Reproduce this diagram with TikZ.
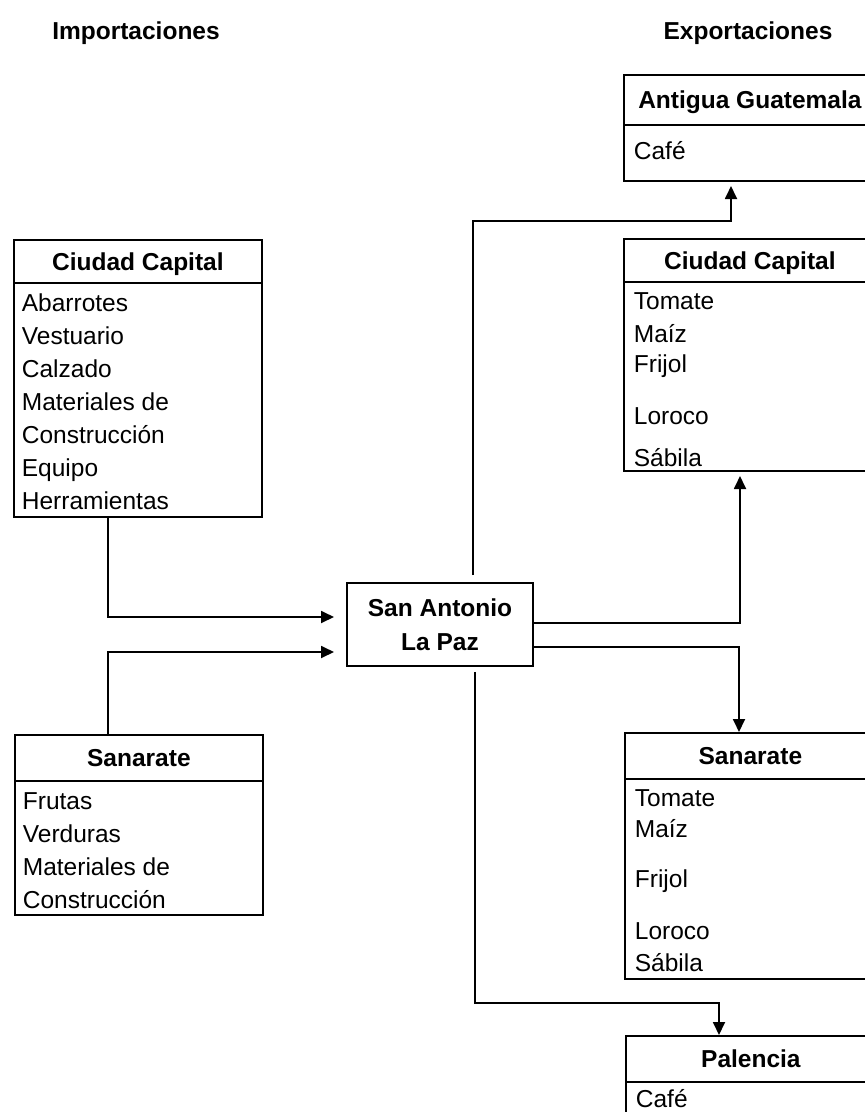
\documentclass[tikz,border=0pt]{standalone}
\usepackage{fontspec}
\setmainfont{Liberation Sans}
\usetikzlibrary{arrows.meta,calc}
\begin{document}
\begin{tikzpicture}[x=1pt,y=-1pt,line width=1.8pt,
  title/.style={inner sep=0pt,anchor=base,font=\bfseries\fontsize{24.5}{29}\selectfont},
  hdr/.style={draw,rectangle,inner sep=0pt,anchor=north west,font=\bfseries\fontsize{24.5}{29}\selectfont,text height=17.6pt,text depth=0pt},
  bodybox/.style={draw,rectangle,inner sep=0pt,anchor=north west},
  item/.style={inner sep=0pt,anchor=base west,font=\fontsize{24.5}{29}\selectfont},
  center/.style={draw,rectangle,inner sep=0pt,align=center,font=\bfseries\fontsize{24.5}{34}\selectfont},
  arr/.style={-{Triangle[length=13pt,width=12pt]}}]
\useasboundingbox (0,0) rectangle (865,1112);
\clip (0,0) rectangle (865,1112);

% titles
\node[title] (imp) at (136,39) {Importaciones};
\node[title] (exp) at (748,39) {Exportaciones};

% left Ciudad Capital
\node[hdr,minimum width=248pt,minimum height=43pt] (ccLh) at (13,239) {Ciudad Capital};
\node[bodybox,minimum width=248pt,minimum height=234pt] (ccLb) at (13,282) {};
\node[item] (l1) at (21,311) {Abarrotes};
\node[item] (l2) at (21,344) {Vestuario};
\node[item] (l3) at (21,377) {Calzado};
\node[item] (l4) at (21,410) {Materiales de};
\node[item] (l5) at (21,443) {Construcción};
\node[item] (l6) at (21,476) {Equipo};
\node[item] (l7) at (21,509) {Herramientas};

% left Sanarate
\node[hdr,minimum width=248pt,minimum height=46pt] (saLh) at (14,734) {Sanarate};
\node[bodybox,minimum width=248pt,minimum height=134pt] (saLb) at (14,780) {};
\node[item] (s1) at (22,809) {Frutas};
\node[item] (s2) at (22,842) {Verduras};
\node[item] (s3) at (22,875) {Materiales de};
\node[item] (s4) at (22,908) {Construcción};

% center
\node[center,minimum width=186pt,minimum height=83pt] (sa) at (440,624.5) {San Antonio\\La Paz};

% right Antigua Guatemala
\node[hdr,minimum width=252pt,minimum height=50pt] (agh) at (623,74) {Antigua Guatemala};
\node[bodybox,minimum width=252pt,minimum height=56pt] (agb) at (623,124) {};
\node[item] (a1) at (633,159) {Café};

% right Ciudad Capital
\node[hdr,minimum width=252pt,minimum height=43pt] (ccRh) at (623,238) {Ciudad Capital};
\node[bodybox,minimum width=252pt,minimum height=189pt] (ccRb) at (623,281) {};
\node[item] (r1) at (633,309) {Tomate};
\node[item] (r2) at (633,342) {Maíz};
\node[item] (r3) at (633,372) {Frijol};
\node[item] (r4) at (633,424) {Loroco};
\node[item] (r5) at (633,466) {Sábila};

% right Sanarate
\node[hdr,minimum width=251pt,minimum height=46pt] (saRh) at (624,732) {Sanarate};
\node[bodybox,minimum width=251pt,minimum height=200pt] (saRb) at (624,778) {};
\node[item] (t1) at (634,806) {Tomate};
\node[item] (t2) at (634,837) {Maíz};
\node[item] (t3) at (634,887) {Frijol};
\node[item] (t4) at (634,939) {Loroco};
\node[item] (t5) at (634,971) {Sábila};

% Palencia
\node[hdr,minimum width=250pt,minimum height=46pt] (palh) at (625,1035) {Palencia};
\node[bodybox,minimum width=250pt,minimum height=60pt] (palb) at (625,1081) {};
\node[item] (p1) at (635,1107) {Café};

% connector end points
\coordinate (inA) at (334,617);
\coordinate (inB) at (334,652);
\coordinate (agIn) at (731,186);
\coordinate (ccRIn) at (740,476);
\coordinate (saRIn) at ([xshift=115pt]saRh.north west);
\coordinate (palIn) at ([xshift=94pt]palh.north west);

% connectors
\draw[arr] ([xshift=95pt]ccLb.south west) |- (inA);
\draw[arr] ([xshift=94pt]saLh.north west) |- (inB);
\draw[arr] ([xshift=33pt,yshift=7pt]sa.north) |- ($(agIn)+(0,35)$) -- (agIn);
\draw[arr] ([yshift=1.5pt]sa.east) -| (ccRIn);
\draw[arr] ([yshift=-22.5pt]sa.east) -| (saRIn);
\draw[arr] ([xshift=35pt,yshift=-5pt]sa.south) |- ($(palIn)+(0,-32)$) -- (palIn);
\end{tikzpicture}
\end{document}
